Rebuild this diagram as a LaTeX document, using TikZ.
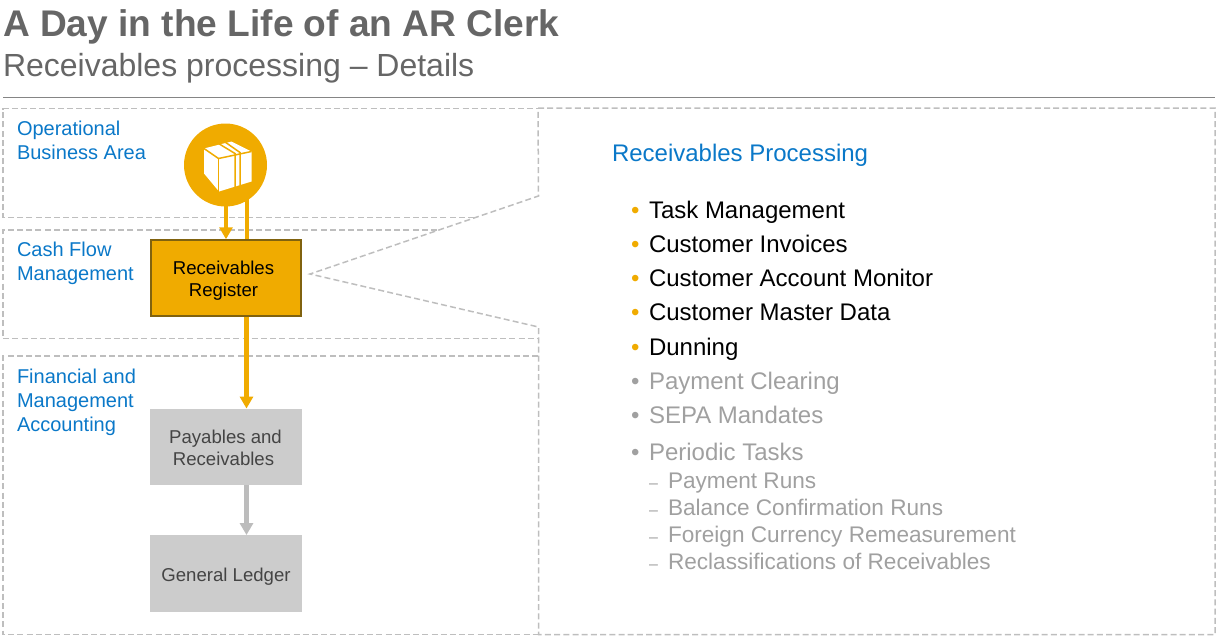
\documentclass[tikz,border=0pt]{standalone}
\usepackage{fontspec}
\setmainfont{Liberation Sans}
\usetikzlibrary{arrows.meta,calc}
\definecolor{sapgold}{HTML}{F0AB00}
\definecolor{goldedge}{HTML}{80620F}
\definecolor{boxgray}{HTML}{CCCCCC}
\definecolor{dashgray}{HTML}{BEBEBE}
\definecolor{titlegray}{HTML}{666666}
\definecolor{sapblue}{HTML}{0A78C8}
\definecolor{mutedgray}{HTML}{A0A0A0}
\definecolor{boxtext}{HTML}{444444}
\newcommand{\fs}[1]{\fontsize{#1}{#1}\selectfont}
\newcommand{\bl}[3]{\raisebox{#1}[\height][\depth]{#3\hspace*{#2}}}
\tikzset{
  x=1pt,y=-1pt,
  dashline/.style={draw=dashgray,line width=1.5pt,dash pattern=on 6pt off 3.2pt},
  txt/.style={anchor=base west,inner sep=0pt,outer sep=0pt},
  lane/.style={txt,text=sapblue,font=\fs{20}},
  done/.style={txt,text=black,font=\fs{24}},
  muted/.style={txt,text=mutedgray,font=\fs{24}},
  mutedsub/.style={txt,text=mutedgray,font=\fs{22.6}},
  bulletgold/.style={txt,text=sapgold,font=\fs{24}},
  bulletgray/.style={txt,text=mutedgray,font=\fs{24}},
  dashmark/.style={txt,text=mutedgray,font=\fs{16}},
  activebox/.style={draw=goldedge,fill=sapgold,line width=2pt,minimum width=150pt,minimum height=75.5pt,inner sep=0pt,align=center,text=black,font=\fs{18.6}},
  graybox/.style={fill=boxgray,minimum width=152pt,minimum height=76.5pt,inner sep=0pt,align=center,text=boxtext,font=\fs{18.6}},
  goldflow/.style={draw=sapgold,line width=4.6pt},
  grayflow/.style={draw=boxgray!92!black,line width=4.6pt},
  tip/.style={-{Triangle[length=12pt,width=13pt]}},
}
\begin{document}
\begin{tikzpicture}
\useasboundingbox (0,0) rectangle (1218,637);
\node[txt,text=titlegray,font=\fs{37.1}\bfseries] (title) at (3,36) {A Day in the Life of an AR Clerk};
\node[txt,text=titlegray,font=\fs{32}] (subtitle) at (3,76) {Receivables processing – Details};
\draw[draw=titlegray!80,line width=1pt] (3,97) -- (1215,97);

% lanes
\draw[dashline] (474,217.5) -- (3,217.5) -- (3,108.5) -- (538,108.5);
\draw[dashline] (437,230) -- (3,230) -- (3,338.5) -- (538,338.5);
\draw[dashline] (538,356) -- (3,356) -- (3,634.5) -- (538,634.5);
\draw[dashline] (538,108) -- (1215,108) -- (1215,634.5) -- (538.5,634.5) -- (538.5,327) -- (310,274) -- (538.5,196) -- cycle;

\node[lane] (l1a) at (17,135) {Operational};
\node[lane] (l1b) at (17,159) {Business Area};
\node[lane] (l2a) at (17,256) {Cash Flow};
\node[lane] (l2b) at (17,280) {Management};
\node[lane] (l3a) at (17,383) {Financial and};
\node[lane] (l3b) at (17,407) {Management};
\node[lane] (l3c) at (17,431) {Accounting};

% flow
\node[circle,fill=sapgold,minimum size=83pt,inner sep=0pt] (circ) at (225.5,165) {};
\node[activebox] (recv) at (225.5,278) {\bl{-2.5pt}{4pt}{Receivables}\\[3.5pt]\bl{-2.5pt}{4pt}{Register}};
\node[graybox] (pay) at (226,447) {\bl{-0.5pt}{1pt}{Payables and}\\[3.5pt]\bl{-0.5pt}{5pt}{Receivables}};
\node[graybox] (gl) at (226,573.5) {\raisebox{-3pt}[\height][\depth]{General Ledger}};
\coordinate (c2) at (247,195);
\draw[goldflow,tip] (circ.south) ++(0.5,-1) -- (recv.north -| 226,0);
\draw[goldflow] (c2) -- ($(recv.north)+(21.5,0)$);
\draw[goldflow,tip] ($(recv.south)+(21,0)$) -- ($(pay.north)+(20.5,0)$);
\draw[grayflow,tip] ($(pay.south)+(20.5,0)$) -- ($(gl.north)+(20.5,0)$);

% box icon
\fill[white] (204,148.5) -- (231.5,141.5) -- (251.5,151.5) -- (251.5,181.5) -- (219,191.5) -- (204,173.5) -- cycle;
\draw[sapgold,line width=1.5pt] (204,148.5) -- (218.5,158.5) -- (251.5,151.5);
\draw[sapgold,line width=1.5pt] (218.5,158.5) -- (218.5,191.5);
\draw[sapgold,line width=1.5pt] (218.5,143.5) -- (235,153.5) -- (235,187);
\draw[sapgold,line width=1.5pt] (225,142) -- (240,152.5) -- (240,185.5);

% right panel
\node[txt,text=sapblue,font=\fs{24}] (head) at (612,161) {Receivables Processing};
\node[bulletgold] (b1) at (631,218) {•};
\node[done] (t1) at (649,218) {Task Management};
\node[bulletgold] (b2) at (631,252) {•};
\node[done] (t2) at (649,252) {Customer Invoices};
\node[bulletgold] (b3) at (631,286) {•};
\node[done] (t3) at (649,286) {Customer Account Monitor};
\node[bulletgold] (b4) at (631,320) {•};
\node[done] (t4) at (649,320) {Customer Master Data};
\node[bulletgold] (b5) at (631,355) {•};
\node[done] (t5) at (649,355) {Dunning};
\node[bulletgray] (b6) at (631,389) {•};
\node[muted] (t6) at (649,389) {Payment Clearing};
\node[bulletgray] (b7) at (631,423) {•};
\node[muted] (t7) at (649,423) {SEPA Mandates};
\node[bulletgray] (b8) at (631,460) {•};
\node[muted] (t8) at (649,460) {Periodic Tasks};
\node[dashmark] (d1) at (649,488) {–};
\node[mutedsub] (s1) at (668,488) {Payment Runs};
\node[dashmark] (d2) at (649,515) {–};
\node[mutedsub] (s2) at (668,515) {Balance Confirmation Runs};
\node[dashmark] (d3) at (649,542) {–};
\node[mutedsub] (s3) at (668,542) {Foreign Currency Remeasurement};
\node[dashmark] (d4) at (649,569) {–};
\node[mutedsub] (s4) at (668,569) {Reclassifications of Receivables};
\end{tikzpicture}
\end{document}
